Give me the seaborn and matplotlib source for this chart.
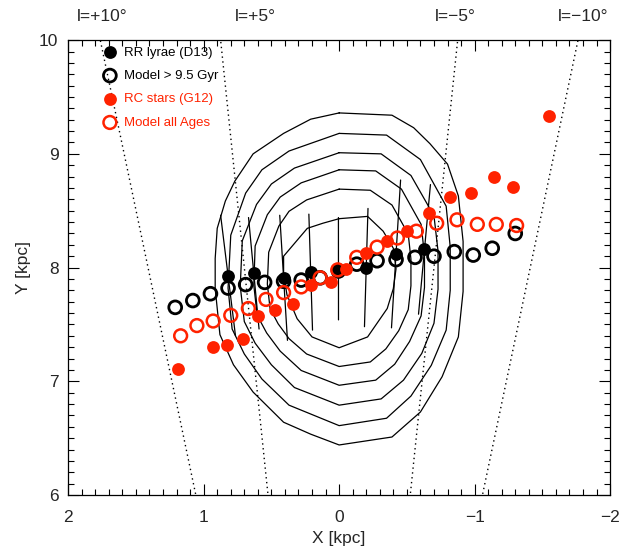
import numpy as np
import matplotlib
matplotlib.use("Agg")
import matplotlib.pyplot as plt
import seaborn as sns
from matplotlib.ticker import MultipleLocator, FuncFormatter

# ------------------------
# Data
# ------------------------
# RR lyrae (D13), with distance error along the line of sight
rr_x = [0.82, 0.63, 0.41, 0.21, 0.005, -0.20, -0.42, -0.63]
rr_y = [7.93, 7.95, 7.91, 7.96, 7.99, 8.00, 8.12, 8.16]
rr_err = [0.53, 0.49, 0.55, 0.51, 0.45, 0.52, 0.65, 0.57]

# Model > 9.5 Gyr
old_x = [1.21, 1.08, 0.95, 0.82, 0.69, 0.55, 0.41, 0.28, 0.14, 0.005,
         -0.13, -0.28, -0.42, -0.56, -0.70, -0.85, -0.99, -1.13, -1.30]
old_y = [7.65, 7.71, 7.77, 7.82, 7.85, 7.87, 7.88, 7.89, 7.91, 7.97,
         8.03, 8.06, 8.07, 8.09, 8.10, 8.14, 8.11, 8.17, 8.30]

# RC stars (G12)
rc_x = [1.19, 0.93, 0.83, 0.71, 0.60, 0.47, 0.34, 0.21, 0.06, -0.05,
        -0.20, -0.35, -0.50, -0.66, -0.82, -0.97, -1.14, -1.28, -1.55]
rc_y = [7.11, 7.30, 7.32, 7.37, 7.57, 7.63, 7.68, 7.85, 7.87, 7.99,
        8.13, 8.23, 8.32, 8.48, 8.62, 8.66, 8.80, 8.71, 9.33]

# Model all Ages
all_x = [1.17, 1.05, 0.93, 0.80, 0.67, 0.54, 0.41, 0.28, 0.14, 0.01,
         -0.13, -0.28, -0.43, -0.57, -0.72, -0.87, -1.02, -1.16, -1.31]
all_y = [7.40, 7.49, 7.53, 7.58, 7.64, 7.72, 7.78, 7.83, 7.91, 7.98,
         8.09, 8.18, 8.26, 8.32, 8.39, 8.42, 8.38, 8.38, 8.37]

# density contours (closed polygons, outer to inner)
contour_x = [
    [0.0, -0.39, -0.55, -0.67, -0.80, -0.88, -0.915, -0.915, -0.88, -0.76, -0.60, -0.39,
     0.0, 0.21, 0.41, 0.635, 0.78, 0.88, 0.915, 0.915, 0.90, 0.84, 0.77, 0.635, 0.41, 0.21],
    [0.0, -0.35, -0.60, -0.79, -0.82, -0.82, -0.79, -0.68, -0.53, -0.35,
     0.0, 0.37, 0.57, 0.70, 0.79, 0.82, 0.80, 0.69, 0.57, 0.37],
    [0.0, -0.31, -0.53, -0.70, -0.73, -0.73, -0.70, -0.61, -0.475, -0.31,
     0.0, 0.33, 0.50, 0.62, 0.70, 0.73, 0.715, 0.61, 0.50, 0.33],
    [0.0, -0.27, -0.46, -0.605, -0.63, -0.63, -0.605, -0.52, -0.41, -0.27,
     0.0, 0.28, 0.435, 0.535, 0.605, 0.63, 0.62, 0.53, 0.435, 0.28],
    [0.0, -0.23, -0.39, -0.51, -0.53, -0.53, -0.51, -0.44, -0.345, -0.23,
     0.0, 0.24, 0.37, 0.45, 0.51, 0.53, 0.52, 0.445, 0.37, 0.24],
    [0.0, -0.21, -0.325, -0.40, -0.42, -0.40, -0.355, -0.21,
     0.0, 0.20, 0.31, 0.385, 0.41, 0.41, 0.235, 0.12],
]
contour_y = [
    [9.36, 9.34, 9.23, 9.09, 8.91, 8.63, 8.23, 7.79, 7.39, 7.04, 6.73, 6.51,
     6.44, 6.535, 6.64, 6.905, 7.145, 7.41, 7.815, 8.08, 8.345, 8.585, 8.76, 9.0, 9.18, 9.305],
    [9.18, 9.165, 8.95, 8.54, 8.18, 7.80, 7.45, 7.14, 6.87, 6.675,
     6.61, 6.79, 7.02, 7.24, 7.46, 7.82, 8.285, 8.655, 8.86, 9.025],
    [9.01, 9.0, 8.81, 8.455, 8.145, 7.81, 7.51, 7.245, 7.01, 6.845,
     6.79, 6.945, 7.145, 7.335, 7.525, 7.835, 8.235, 8.555, 8.735, 8.875],
    [8.86, 8.85, 8.69, 8.38, 8.11, 7.825, 7.575, 7.35, 7.15, 7.01,
     6.965, 7.095, 7.265, 7.425, 7.58, 7.845, 8.19, 8.465, 8.62, 8.745],
    [8.69, 8.68, 8.55, 8.295, 8.075, 7.84, 7.63, 7.445, 7.285, 7.17,
     7.13, 7.24, 7.375, 7.505, 7.64, 7.855, 8.135, 8.365, 8.495, 8.595],
    [8.43, 8.45, 8.32, 8.17, 7.99, 7.815, 7.64, 7.39,
     7.295, 7.39, 7.55, 7.76, 7.94, 8.10, 8.345, 8.39],
]

# galactic longitude lines of sight
lon_deg = [10, 5, -5, -10]
lon_labels = ["l=+10°", "l=+5°", "l=\u22125°", "l=\u221210°"]
lon_label_x = [1.75, 0.62, -0.86, -1.80]

red = "#ff2200"

# ------------------------
# Figure
# ------------------------
sns.set_theme(style="ticks")
plt.rcParams["font.family"] = ["Liberation Sans", "DejaVu Sans"]

fig = plt.figure(figsize=(6.2, 5.5), dpi=100)
ax = fig.add_axes([0.11, 0.10, 0.874, 0.827])

# contours
for cx, cy in zip(contour_x, contour_y):
    ax.plot(cx + cx[:1], cy + cy[:1], color="black", lw=0.9, zorder=1)

# longitude lines
yy = np.array([5.5, 10.5])
for l in lon_deg:
    ax.plot(yy * np.tan(np.radians(l)), yy, color="black", lw=1.0,
            ls=(0, (1, 2.5)), zorder=1)
for lx, lab in zip(lon_label_x, lon_labels):
    ax.text(lx, 10.21, lab, ha="center", va="center", fontsize=12.5,
            clip_on=False)

# line-of-sight errors of the RR lyrae
for x, y, e in zip(rr_x, rr_y, rr_err):
    ax.plot([x - e * x / y, x + e * x / y], [y - e, y + e], color="black",
            lw=0.9, zorder=2)

sns.scatterplot(x=rr_x, y=rr_y, ax=ax, color="black", s=85, linewidth=0,
                label="RR lyrae (D13)", zorder=3)
sns.scatterplot(x=old_x, y=old_y, ax=ax, facecolors="none", edgecolor="black",
                s=85, linewidth=2.0, label="Model > 9.5 Gyr", zorder=3)
sns.scatterplot(x=rc_x, y=rc_y, ax=ax, color=red, s=85, linewidth=0,
                label="RC stars (G12)", zorder=4)
sns.scatterplot(x=all_x, y=all_y, ax=ax, facecolors="none", edgecolor=red,
                s=85, linewidth=1.8, label="Model all Ages", zorder=4)

ax.set_xlim(2, -2)
ax.set_ylim(6, 10)
ax.xaxis.set_major_locator(MultipleLocator(1))
ax.xaxis.set_minor_locator(MultipleLocator(0.1))
ax.yaxis.set_major_locator(MultipleLocator(1))
ax.yaxis.set_minor_locator(MultipleLocator(0.1))
ax.xaxis.set_major_formatter(FuncFormatter(
    lambda v, p: "%d" % round(v) if round(v) >= 0 else "\u2212%d" % abs(round(v))))
ax.yaxis.set_major_formatter(FuncFormatter(lambda v, p: "%d" % round(v)))
ax.tick_params(which="both", direction="in", top=True, right=True,
               color="black", width=0.8)
ax.tick_params(which="major", length=8, labelsize=12.5)
ax.tick_params(which="minor", length=4)
ax.tick_params(axis="x", pad=11)
ax.tick_params(axis="y", pad=7)
for sp in ax.spines.values():
    sp.set_linewidth(0.9)
    sp.set_color("black")

ax.set_xlabel("X [kpc]", fontsize=12.5, labelpad=4)
ax.set_ylabel("Y [kpc]", fontsize=12.5, labelpad=6)

leg = ax.legend(loc="upper left", frameon=False, fontsize=9.5, handletextpad=0.6,
                labelspacing=0.85, borderaxespad=0.0, handlelength=1.0,
                bbox_to_anchor=(0.055, 0.998))
for txt, c in zip(leg.get_texts(), ["black", "black", red, red]):
    txt.set_color(c)

fig.savefig("out.png", dpi=100)
